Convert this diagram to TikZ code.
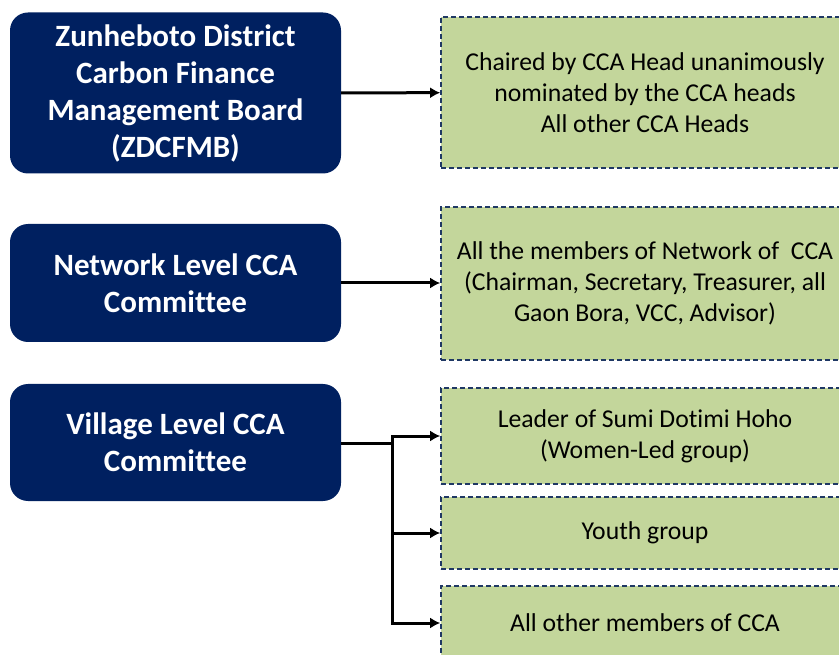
\documentclass[tikz,border=0pt]{standalone}
\usepackage{fontspec}
\setmainfont{Carlito}[Ligatures=NoCommon]
\usepackage{xcolor}
\usetikzlibrary{arrows.meta}
\usetikzlibrary{positioning}

\definecolor{navy}{HTML}{002060}
\definecolor{olive}{HTML}{C3D69B}
\definecolor{dashblue}{HTML}{1F3864}

\begin{document}
\begin{tikzpicture}[x=1pt,y=-1pt]
	%\draw[help lines] (0,0) grid (839,655);
	
	\tikzstyle{bodynode} = [rounded corners=18pt,fill=navy,text=white,font=\fontsize{31}{37}\selectfont\bfseries,align=center,minimum width=331pt,inner sep=0pt]
	\tikzstyle{membernode} = [fill=olive,draw=dashblue,line width=1.6pt,dash pattern=on 5pt off 3pt,font=\fontsize{25.7}{31}\selectfont,align=center,minimum width=408pt,inner sep=0pt]
	\tikzstyle{linkedge} = [-{Latex[length=10pt,width=11pt]},line width=3pt]
	
	\useasboundingbox (0,0) rectangle (839,655);
	\clip (0,0) rectangle (839,655);

\node[bodynode,minimum height=161pt] (zdcfmb) at (175.5,93) {Zunheboto District\\Carbon Finance\\Management Board\\(ZDCFMB)};
\node[bodynode,minimum height=118pt] (network) at (175.5,283) {Network Level CCA\\Committee};
\node[bodynode,minimum height=117pt] (village) at (175.5,442.5) {Village Level CCA\\Committee};

\node[membernode,minimum height=151pt] (chair) at (645,92.5) {Chaired by CCA Head unanimously\\nominated by the CCA heads\\All other CCA Heads};
\node[membernode,minimum height=153pt] (members) at (645,283.5) {All the members of Network of~~CCA\\(Chairman, Secretary, Treasurer, all\\Gaon Bora, VCC, Advisor)};
\node[membernode,minimum height=96pt] (leader) at (645,436) {Leader of Sumi Dotimi Hoho\\(Women-Led group)};
\node[membernode,minimum height=72pt] (youth) at (645,533) {Youth group};
\node[membernode,minimum height=74pt] (others) at (645,623) {All other members of CCA};

\coordinate (fork) at (392,443);

\draw[linkedge] (zdcfmb) -- (chair);
\draw[linkedge] (network) -- (network -| members.west);
\draw[line width=3pt] (village.east |- fork) -- (fork);
\draw[linkedge] (fork |- leader) -- (leader);
\draw[linkedge] (fork) |- (youth);
\draw[linkedge] (fork) |- (others);
\draw[line width=3pt,line cap=rect] (fork) -- (fork |- leader);
\end{tikzpicture}
\end{document}
